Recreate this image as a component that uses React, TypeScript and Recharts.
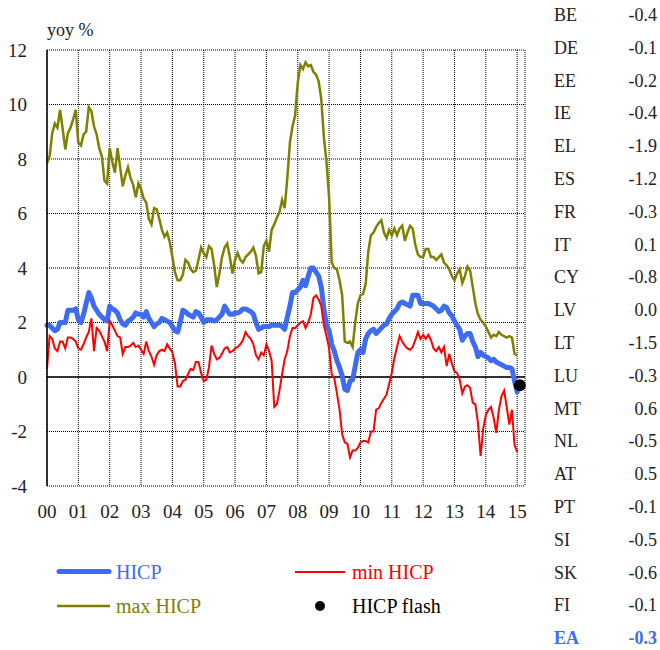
import React from 'react';
import { LineChart, Line, XAxis, YAxis, CartesianGrid, ReferenceLine } from 'recharts';

// Monthly yoy %, Jan 2000 .. Jan 2015
const hicp: number[] = [
  1.9, 1.9, 1.8, 1.7, 1.75, 2.0, 2.0, 2.0, 2.45, 2.45, 2.45, 2.5,
  2.1, 2.0, 2.3, 2.7, 3.1, 2.9, 2.6, 2.45, 2.3, 2.2, 2.1, 2.05,
  2.6, 2.5, 2.45, 2.35, 2.1, 1.95, 1.9, 2.05, 2.1, 2.2, 2.35, 2.3,
  2.3, 2.2, 2.4, 2.15, 2.0, 1.85, 1.95, 2.0, 2.15, 2.1, 2.05, 2.0,
  1.85, 1.7, 1.65, 2.0, 2.45, 2.4, 2.3, 2.25, 2.2, 2.4, 2.35, 2.2,
  2.0, 2.1, 2.1, 2.1, 2.05, 2.1, 2.2, 2.3, 2.6, 2.45, 2.3, 2.3,
  2.35, 2.35, 2.4, 2.5, 2.5, 2.45, 2.4, 2.3, 2.0, 1.75, 1.8, 1.85,
  1.85, 1.85, 1.9, 1.9, 1.9, 1.9, 1.85, 1.75, 2.2, 2.6, 3.1, 3.1,
  3.2, 3.3, 3.55, 3.35, 3.7, 4.0, 4.0, 3.85, 3.7, 3.3, 2.5, 1.9,
  1.7, 1.2, 0.95, 0.6, 0.35, 0.05, -0.45, -0.5, -0.15, -0.1, 0.4, 0.9,
  1.0, 0.9, 1.4, 1.6, 1.7, 1.75, 1.6, 1.7, 1.8, 1.9, 1.95, 2.15,
  2.3, 2.4, 2.5, 2.7, 2.75, 2.7, 2.65, 2.6, 3.0, 3.0, 3.0, 2.7,
  2.7, 2.7, 2.7, 2.65, 2.6, 2.5, 2.4, 2.45, 2.6, 2.55, 2.35, 2.25,
  2.05, 1.9, 1.75, 1.35, 1.5, 1.6, 1.6, 1.3, 1.1, 0.75, 0.9, 0.8,
  0.75, 0.7, 0.6, 0.65, 0.55, 0.5, 0.45, 0.4, 0.35, 0.35, 0.3, -0.15,
  -0.55,
];

const minHicp: number[] = [
  0.3, 1.5, 1.4, 1.05, 0.95, 1.3, 1.3, 1.05, 1.45, 1.45, 1.4, 1.3,
  1.05, 1.0, 1.2, 1.45, 1.65, 2.15, 0.95, 1.8, 1.7, 1.5, 1.3, 0.95,
  2.05, 1.9, 1.7, 1.5, 1.45, 0.85, 1.1, 1.1, 1.15, 1.25, 1.1, 1.15,
  1.0, 0.85, 1.3, 0.95, 0.75, 0.45, 0.8, 0.95, 1.0, 0.95, 1.2, 1.05,
  0.9, 0.5, -0.35, -0.35, -0.15, -0.1, 0.1, 0.3, 0.25, 0.55, 0.55, 0.15,
  -0.15, -0.1, 0.35, 1.15, 0.85, 0.65, 0.7, 0.85, 1.05, 1.1, 0.9, 0.95,
  1.05, 1.1, 1.2, 1.35, 1.65, 1.5, 1.4, 1.2, 0.8, 0.65, 0.9, 0.8,
  1.2, 0.95, 0.6, -1.1, -1.0, -0.5, 0.1, 0.65, 0.95, 1.5, 1.8, 1.8,
  1.9, 2.0, 2.05, 1.8, 2.0, 2.3, 2.9, 3.0, 2.85, 2.6, 1.9, 1.5,
  1.05, 0.1, -0.05, -0.6, -1.2, -2.1, -2.4, -2.45, -2.95, -2.7, -2.7, -2.6,
  -2.4, -2.35, -2.35, -2.4, -2.0, -2.0, -1.2, -1.15, -0.95, -0.8, -0.65, -0.25,
  0.15, 0.7, 1.1, 1.5, 1.3, 1.15, 1.05, 1.0, 1.1, 1.35, 1.65, 1.4,
  1.55, 1.4, 1.55, 1.35, 1.05, 0.95, 1.1, 0.9, 1.1, 0.4, 0.85, 0.5,
  0.2, 0.15, -0.1, -0.6, -0.35, -0.3, -0.4, -0.95, -1.0, -1.7, -2.9, -1.9,
  -1.4, -1.2, -1.1, -1.5, -2.05, -1.2, -0.7, -0.5, -1.1, -1.75, -1.2, -2.5,
  -2.75,
];

const maxHicp: number[] = [
  7.85, 8.1, 8.95, 9.3, 9.15, 9.8, 9.1, 8.35, 8.95, 9.15, 9.45, 9.8,
  8.6, 8.5, 8.9, 9.0, 9.9, 9.75, 9.2, 8.9, 8.4, 8.1, 7.2, 7.1,
  8.4, 7.9, 7.5, 8.4, 7.7, 7.0, 7.4, 7.7, 7.3, 7.05, 6.6, 7.1,
  6.9, 6.55, 6.4, 5.8, 5.6, 6.2, 6.15, 5.8, 5.4, 5.15, 5.3, 4.95,
  4.4, 3.85, 3.55, 3.55, 3.75, 4.3, 4.2, 3.95, 3.85, 3.9, 4.3, 4.75,
  4.55, 4.4, 4.8, 4.7, 4.1, 3.3, 3.8, 4.4, 4.75, 4.9, 4.4, 3.8,
  4.3, 4.55, 4.3, 4.2, 4.4, 4.5, 4.6, 4.75, 4.45, 3.8, 3.85, 4.8,
  5.0, 4.6, 5.4, 5.6, 5.85, 6.05, 6.5, 6.2, 7.3, 8.6, 9.2, 9.6,
  10.8, 11.45, 11.3, 11.55, 11.4, 11.45, 11.2, 11.1, 10.85, 10.2, 8.8, 7.9,
  6.6, 4.2, 4.0, 3.95, 3.55, 3.0, 1.3, 1.25, 1.3, 1.1, 2.0, 2.7,
  3.0, 3.05, 3.4, 4.6, 5.2, 5.3, 5.5, 5.65, 5.75, 5.3, 5.1, 5.4,
  5.2, 5.45, 5.2, 5.45, 5.55, 5.0, 5.3, 5.55, 5.45, 4.85, 4.5, 4.4,
  4.4, 4.7, 4.7, 4.4, 4.4, 4.3, 4.4, 4.5, 4.2, 4.1, 3.95, 3.7,
  3.55, 3.8, 3.95, 3.45, 3.7, 4.05, 3.9, 3.3, 2.7, 2.3, 2.1, 2.0,
  1.85, 1.65, 1.45, 1.55, 1.5, 1.65, 1.55, 1.5, 1.45, 1.5, 1.45, 0.85,
  0.8,
];

// HICP flash estimate (Feb 2015), month index 181
const flashMonth = 181;
const flashValue = -0.3;

const yearTicks: number[] = [0, 12, 24, 36, 48, 60, 72, 84, 96, 108, 120, 132, 144, 156, 168, 180];
const yearLabels: string[] = ['00', '01', '02', '03', '04', '05', '06', '07', '08', '09', '10', '11', '12', '13', '14', '15'];
const yTicks: number[] = [-4, -2, 0, 2, 4, 6, 8, 10, 12];

const countries: string[] = ['BE', 'DE', 'EE', 'IE', 'EL', 'ES', 'FR', 'IT', 'CY', 'LV', 'LT', 'LU', 'MT', 'NL', 'AT', 'PT', 'SI', 'SK', 'FI', 'EA'];
const countryValues: string[] = ['-0.4', '-0.1', '-0.2', '-0.4', '-1.9', '-1.2', '-0.3', '0.1', '-0.8', '0.0', '-1.5', '-0.3', '0.6', '-0.5', '0.5', '-0.1', '-0.5', '-0.6', '-0.1', '-0.3'];

const BLUE = '#3D6CF2';
const RED = '#FF0000';
const OLIVE = '#808000';
const FONT = '"Liberation Serif", "Times New Roman", serif';

const data: any[] = [];
for (let i = 0; i <= flashMonth; i++) {
  data.push({
    m: i,
    hicp: i < hicp.length ? hicp[i] : null,
    min: i < minHicp.length ? minHicp[i] : null,
    max: i < maxHicp.length ? maxHicp[i] : null,
    flash: i === flashMonth ? flashValue : null,
  });
}

const YTick = (props: any) => (
  <text x={27} y={props.y} dy={6.5} textAnchor="end" fontFamily={FONT} fontSize={19} fill="#222">
    {props.payload.value}
  </text>
);

const XTick = (props: any) => {
  const idx = yearTicks.indexOf(props.payload.value);
  return (
    <text x={props.x} y={518} textAnchor="middle" fontFamily={FONT} fontSize={19} fill="#222">
      {idx >= 0 ? yearLabels[idx] : ''}
    </text>
  );
};

export default function App() {
  return (
    <div style={{ position: 'absolute', left: 0, top: 0, width: 660, height: 650, overflow: 'hidden', background: '#fff' }}>
      <LineChart
        width={660}
        height={650}
        data={data}
        margin={{ top: 50, right: 135, bottom: 134, left: 0 }}
      >
        <CartesianGrid stroke="#000" strokeDasharray="1 1" strokeWidth={1} />
        <XAxis
          type="number"
          dataKey="m"
          domain={[0, 183]}
          ticks={yearTicks}
          tick={<XTick />}
          axisLine={false}
          tickLine={false}
          height={30}
          interval={0}
        />
        <YAxis
          type="number"
          domain={[-4, 12]}
          ticks={yTicks}
          tick={<YTick />}
          width={47}
          axisLine={{ stroke: '#000', strokeWidth: 1.5 }}
          tickLine={false}
          interval={0}
        />
        <ReferenceLine y={0} stroke="#000" strokeWidth={1.3} />
        <Line type="linear" dataKey="hicp" stroke={BLUE} strokeWidth={5} dot={false} isAnimationActive={false} strokeLinejoin="round" strokeLinecap="round" />
        <Line type="linear" dataKey="min" stroke={RED} strokeWidth={2} dot={false} isAnimationActive={false} />
        <Line type="linear" dataKey="max" stroke={OLIVE} strokeWidth={2.5} dot={false} isAnimationActive={false} />
        <Line type="linear" dataKey="flash" stroke="none" dot={{ r: 6, fill: '#000', stroke: '#000', strokeWidth: 0 }} isAnimationActive={false} />
      </LineChart>
      <svg width={660} height={650} style={{ position: 'absolute', left: 0, top: 0, pointerEvents: 'none' }}>
        <text x={47} y={36} fontFamily={FONT} fontSize={18} fill="#222">yoy %</text>
        {countries.map((c, i) => {
          const y = 15 + i * 32.8 + 6;
          const isEA = c === 'EA';
          return (
            <g key={c}>
              <text x={554} y={y} fontFamily={FONT} fontSize={18} fill={isEA ? BLUE : '#222'} fontWeight={isEA ? 'bold' : 'normal'}>{c}</text>
              <text x={657} y={y} textAnchor="end" fontFamily={FONT} fontSize={18} fill={isEA ? BLUE : '#222'} fontWeight={isEA ? 'bold' : 'normal'}>{countryValues[i]}</text>
            </g>
          );
        })}
        <line x1={59} y1={571.5} x2={109} y2={571.5} stroke={BLUE} strokeWidth={5} strokeLinecap="round" />
        <text x={116} y={578.5} fontFamily={FONT} fontSize={20} fill={BLUE}>HICP</text>
        <line x1={295} y1={572} x2={345} y2={572} stroke={RED} strokeWidth={2} />
        <text x={352} y={578.5} fontFamily={FONT} fontSize={20} fill={RED}>min HICP</text>
        <line x1={57} y1={606} x2={110} y2={606} stroke={OLIVE} strokeWidth={2.5} />
        <text x={116} y={612.5} fontFamily={FONT} fontSize={20} fill={OLIVE}>max HICP</text>
        <circle cx={320} cy={606} r={5} fill="#000" />
        <text x={352} y={612.5} fontFamily={FONT} fontSize={20} fill="#000">HICP flash</text>
      </svg>
    </div>
  );
}
